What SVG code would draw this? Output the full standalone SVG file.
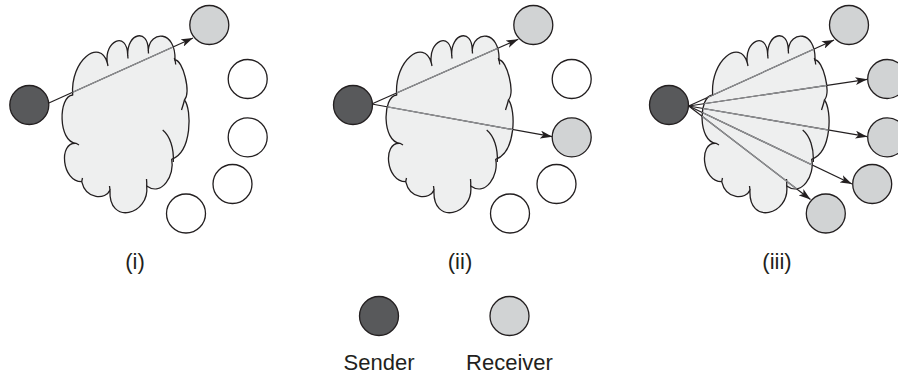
<svg xmlns="http://www.w3.org/2000/svg" xmlns:xlink="http://www.w3.org/1999/xlink" width="898" height="375" viewBox="0 0 898 375">
<style>
.cloud{fill:#eeefef;stroke:#231f20;stroke-width:1.3;stroke-linejoin:round}
.snd{fill:#58595b;stroke:#231f20;stroke-width:1.3}
.rcv{fill:#d1d3d4;stroke:#231f20;stroke-width:1.3}
.idle{fill:#ffffff;stroke:#231f20;stroke-width:1.3}
.ln{fill:none;stroke:#231f20;stroke-width:1.2;marker-end:url(#arrow)}
.lg{fill:none;stroke:#939598;stroke-width:1.2}
.lbl{font-family:"Liberation Sans",Arial,sans-serif;font-size:22px;fill:#231f20;text-anchor:middle}
</style>
<defs>
<marker id="arrow" viewBox="0 0 12 8" refX="12" refY="4" markerWidth="12" markerHeight="8" markerUnits="userSpaceOnUse" orient="auto">
<path d="M0,0 L12,4 L0,8 L3,4 Z" fill="#231f20"/>
</marker>
<path id="cloudOutline" d="M72.7,95 C70,60 100,38 107.3,62.7 C104,41 127,30 127.7,55 C127,33 148,28 148.3,50 C150,30 176,30 175,60 C183,60 191,92 184.5,100 C192,110 192,152 171.7,159.3 C175,175 162,197 146.7,186 C150,215 108,226 110,190 C106,200 86,200 81.7,181.7 C62,182 58,142 76,143.3 C58,142 58,96 72.7,95 Z"/>
<path id="cloudTails" fill="none" d="M162.7,130 C170,136 174,148 173.3,162 M174.3,58 C175,60 175.7,62 175.7,64.5 M184.5,100 C183.5,104 182.5,107 181.5,110 M146.7,186 C146.8,184 146.8,182 146.5,179 M110,190 L109.5,186 M81.7,181.7 L82.5,178 M76,143.3 L79,145 M107.3,62.7 L108,66 M127.7,55 L128,58.5 M148.3,50 L148.5,53.5"/>
<clipPath id="clip1"><use xlink:href="#cloudOutline"/></clipPath>
<clipPath id="clip2"><use xlink:href="#cloudOutline" transform="translate(324,0)"/></clipPath>
<clipPath id="clip3"><use xlink:href="#cloudOutline" transform="translate(640,0)"/></clipPath>
</defs>

<g id="cloud-i"><use xlink:href="#cloudOutline" class="cloud"/><use xlink:href="#cloudTails" class="cloud"/></g>
<g id="cloud-ii" transform="translate(324,0)"><use xlink:href="#cloudOutline" class="cloud"/><use xlink:href="#cloudTails" class="cloud"/></g>
<g id="cloud-iii" transform="translate(640,0)"><use xlink:href="#cloudOutline" class="cloud"/><use xlink:href="#cloudTails" class="cloud"/></g>

<g id="connectors">
<path class="ln" d="M48.3,103.3 L193,38"/>
<path class="ln" d="M371.7,104 L518.3,39.3"/>
<path class="ln" d="M371.7,104 L552.3,136.7"/>
<path class="ln" d="M688.7,106 L834,40"/>
<path class="ln" d="M688.7,106 L867.3,79.3"/>
<path class="ln" d="M688.7,106 L867.3,136.7"/>
<path class="ln" d="M688.7,106 L852,184"/>
<path class="ln" d="M688.7,106 L810.5,199.5"/>
<g clip-path="url(#clip1)"><path class="lg" d="M48.3,103.3 L193,38"/></g>
<g clip-path="url(#clip2)">
<path class="lg" d="M371.7,104 L518.3,39.3"/>
<path class="lg" d="M371.7,104 L552.3,136.7"/>
</g>
<g clip-path="url(#clip3)">
<path class="lg" d="M688.7,106 L834,40"/>
<path class="lg" d="M688.7,106 L867.3,79.3"/>
<path class="lg" d="M688.7,106 L867.3,136.7"/>
<path class="lg" d="M688.7,106 L852,184"/>
<path class="lg" d="M688.7,106 L810.5,199.5"/>
</g>
</g>

<g id="p1-sender"><circle class="snd" cx="29.3" cy="105" r="19.5"/></g>
<g id="p1-r1"><circle class="rcv" cx="209.3" cy="25" r="19.5"/></g>
<g id="p1-n2"><circle class="idle" cx="247.7" cy="79" r="19.5"/></g>
<g id="p1-n3"><circle class="idle" cx="247.7" cy="137.3" r="19.5"/></g>
<g id="p1-n4"><circle class="idle" cx="232.5" cy="184" r="19.5"/></g>
<g id="p1-n5"><circle class="idle" cx="186" cy="213.5" r="19.5"/></g>

<g id="p2-sender"><circle class="snd" cx="353" cy="105" r="19.5"/></g>
<g id="p2-r1"><circle class="rcv" cx="533.3" cy="25" r="19.5"/></g>
<g id="p2-n2"><circle class="idle" cx="571.7" cy="79" r="19.5"/></g>
<g id="p2-r3"><circle class="rcv" cx="571.7" cy="137.3" r="19.5"/></g>
<g id="p2-n4"><circle class="idle" cx="556.5" cy="184" r="19.5"/></g>
<g id="p2-n5"><circle class="idle" cx="510" cy="213.5" r="19.5"/></g>

<g id="p3-sender"><circle class="snd" cx="669" cy="105" r="19.5"/></g>
<g id="p3-r1"><circle class="rcv" cx="849" cy="25" r="19.5"/></g>
<g id="p3-r2"><circle class="rcv" cx="887.2" cy="79" r="19.5"/></g>
<g id="p3-r3"><circle class="rcv" cx="887.2" cy="137.3" r="19.5"/></g>
<g id="p3-r4"><circle class="rcv" cx="872.2" cy="184" r="19.5"/></g>
<g id="p3-r5"><circle class="rcv" cx="825.8" cy="213.5" r="19.5"/></g>

<g id="labels">
<text class="lbl" x="135" y="269">(i)</text>
<text class="lbl" x="460" y="269">(ii)</text>
<text class="lbl" x="777" y="269">(iii)</text>
</g>

<g id="legend-sender"><circle class="snd" cx="379" cy="316" r="19.5"/><text class="lbl" x="379" y="370">Sender</text></g>
<g id="legend-receiver"><circle class="rcv" cx="509.5" cy="316" r="19.5"/><text class="lbl" x="509.5" y="370">Receiver</text></g>
</svg>
